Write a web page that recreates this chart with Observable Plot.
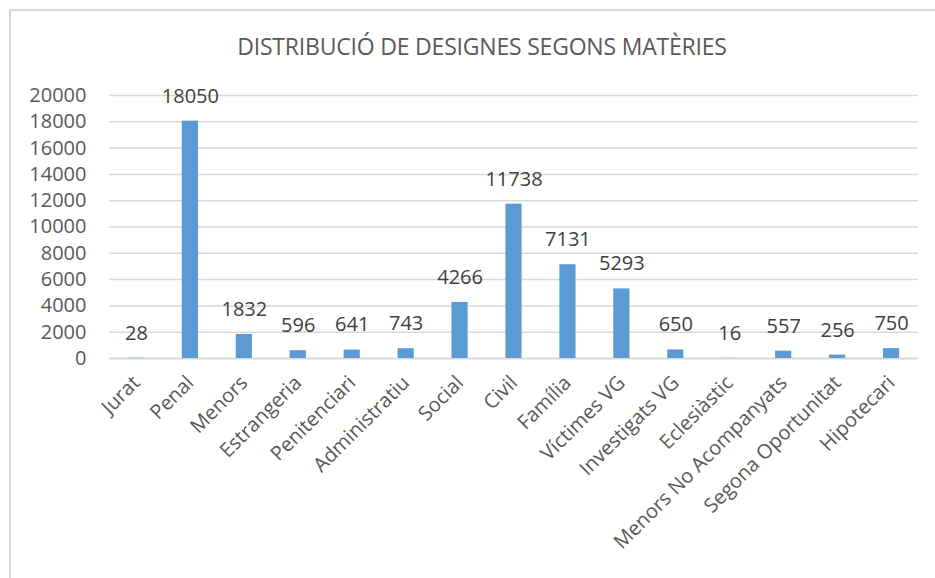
<!DOCTYPE html>
<html><head><meta charset="utf-8">
<script src="https://cdn.jsdelivr.net/npm/d3@7"></script>
<script src="https://cdn.jsdelivr.net/npm/@observablehq/plot@0.6"></script>
<style>
body{margin:0;background:#fff;font-family:"Open Sans",sans-serif;}
#wrap{position:relative;width:935px;height:578px;overflow:hidden;}
#frame{position:absolute;left:9px;top:9px;right:0;bottom:0;border-left:2px solid #d9d9d9;border-top:2px solid #d9d9d9;}
#title{position:absolute;left:19px;width:926px;top:30px;text-align:center;font-size:23px;color:#595959;letter-spacing:-0.2px;}
#chart{position:absolute;left:0;top:0;}
</style></head>
<body>
<div id="wrap"><div id="frame"></div><div id="title">DISTRIBUCIÓ DE DESIGNES SEGONS MATÈRIES</div><div id="chart"></div></div>
<script>
const categories = ["Jurat","Penal","Menors","Estrangeria","Penitenciari","Administratiu","Social","Civil","Família","Víctimes VG","Investigats VG","Eclesiàstic","Menors No Acompanyats","Segona Oportunitat","Hipotecari"];
const values = [28,18050,1832,596,641,743,4266,11738,7131,5293,650,16,557,256,750];
const yTicks = [0,2000,4000,6000,8000,10000,12000,14000,16000,18000,20000];

const data = categories.map((c,i)=>({cat:c, value:values[i]}));

const plot = Plot.plot({
  width:935, height:578,
  marginLeft:109, marginRight:17, marginTop:95, marginBottom:220,
  style:{fontFamily:"Open Sans, sans-serif", fontSize:"20px", color:"#595959", background:"transparent"},
  x:{domain:categories, paddingInner:0.7, paddingOuter:0.35, round:false, label:null},
  y:{domain:[0,20000], ticks:yTicks, label:null},
  marks:[
    Plot.gridY(yTicks.slice(1), {stroke:"#d9d9d9", strokeOpacity:1, strokeWidth:1.5}),
    Plot.ruleY([0], {stroke:"#d9d9d9", strokeWidth:2}),
    Plot.barY(data, {x:"cat", y:"value", fill:"#5b9bd5"}),
    Plot.text(data, {x:"cat", y:"value", text:d=>String(d.value), dy:-25, fill:"#404040", fontSize:20}),
    Plot.axisY({ticks:yTicks, tickSize:0, tickPadding:23, tickFormat:d=>String(d), fill:"#595959", fontSize:20, label:null}),
    Plot.axisX({tickSize:0, tickRotate:-45, tickPadding:21, fill:"#595959", fontSize:20, label:null})
  ]
});
document.getElementById("chart").appendChild(plot);
</script>
</body></html>
